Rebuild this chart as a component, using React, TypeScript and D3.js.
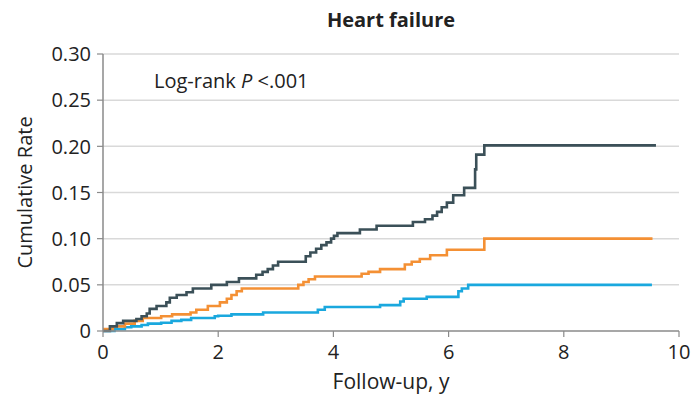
import React from "react";
import * as d3 from "d3";

// Cumulative rate step data: [follow-up years, cumulative rate]
const darkSeries: [number, number][] = [
  [0, 0], [0.12, 0.005], [0.24, 0.0085], [0.35, 0.011], [0.58, 0.013], [0.67, 0.016],
  [0.76, 0.019], [0.81, 0.024], [0.93, 0.027], [1.1, 0.031], [1.16, 0.036], [1.28, 0.039],
  [1.45, 0.042], [1.56, 0.046], [1.88, 0.05], [2.15, 0.053], [2.36, 0.057], [2.66, 0.061],
  [2.77, 0.064], [2.86, 0.067], [2.95, 0.071], [3.04, 0.075], [3.52, 0.081], [3.6, 0.085],
  [3.7, 0.089], [3.79, 0.093], [3.88, 0.096], [3.96, 0.1], [4.01, 0.103], [4.07, 0.106],
  [4.46, 0.11], [4.75, 0.114], [5.38, 0.118], [5.59, 0.121], [5.72, 0.125], [5.8, 0.129],
  [5.88, 0.134], [5.97, 0.139], [6.08, 0.147], [6.27, 0.155], [6.46, 0.175], [6.48, 0.191],
  [6.62, 0.201], [9.6, 0.201],
];

const orangeSeries: [number, number][] = [
  [0, 0.002], [0.17, 0.005], [0.38, 0.008], [0.55, 0.011], [0.69, 0.014], [1.01, 0.016],
  [1.2, 0.018], [1.52, 0.02], [1.62, 0.023], [1.82, 0.027], [2.03, 0.031], [2.15, 0.035],
  [2.23, 0.039], [2.32, 0.043], [2.41, 0.046], [3.39, 0.05], [3.48, 0.053], [3.57, 0.056],
  [3.68, 0.059], [4.49, 0.062], [4.61, 0.064], [4.81, 0.067], [5.24, 0.072], [5.36, 0.075],
  [5.5, 0.078], [5.68, 0.082], [5.97, 0.088], [6.62, 0.1], [9.54, 0.1],
];

const blueSeries: [number, number][] = [
  [0, 0], [0.2, 0.002], [0.38, 0.004], [0.49, 0.005], [0.67, 0.0065], [0.78, 0.008],
  [1.01, 0.009], [1.19, 0.011], [1.36, 0.012], [1.53, 0.014], [1.94, 0.016], [2.0, 0.0165],
  [2.23, 0.018], [2.78, 0.02], [3.73, 0.023], [3.85, 0.026], [4.81, 0.028], [5.16, 0.032],
  [5.22, 0.035], [5.62, 0.037], [6.17, 0.043], [6.23, 0.046], [6.34, 0.05], [9.53, 0.05],
];

const xTicks = [0, 2, 4, 6, 8, 10];
const yTicks = [0, 0.05, 0.1, 0.15, 0.2, 0.25, 0.3];
const yTickLabels = ["0", "0.05", "0.10", "0.15", "0.20", "0.25", "0.30"];

const series = [
  { name: "blue", data: blueSeries, color: "#1aa8de" },
  { name: "orange", data: orangeSeries, color: "#f49034" },
  { name: "dark", data: darkSeries, color: "#3b5058" },
];

const W = 694;
const H = 394;
const margin = { left: 103, right: 15, top: 54, bottom: 63 };
const FONT = "'Open Sans', sans-serif";

export default function App() {
  const x = d3.scaleLinear().domain([0, 10]).range([margin.left, W - margin.right]);
  const y = d3.scaleLinear().domain([0, 0.3]).range([H - margin.bottom, margin.top]);
  const line = d3
    .line<[number, number]>()
    .x((d) => x(d[0]))
    .y((d) => y(d[1]))
    .curve(d3.curveStepAfter);

  const x0 = x(0);
  const x1 = x(10);
  const yBase = y(0);
  const axisColor = "#8a8a8a";

  return (
    <svg
      width={W}
      height={H}
      style={{ position: "absolute", left: 0, top: 0, background: "#fff" }}
      fontFamily={FONT}
    >
      <text x={(x0 + x1) / 2} y={27} textAnchor="middle" fontSize={20} fontWeight={700} fill="#222">
        Heart failure
      </text>

      {yTicks.slice(1).map((t) => (
        <line key={"g" + t} x1={x0} x2={x1} y1={y(t)} y2={y(t)} stroke="#d9d9d9" strokeWidth={1.5} />
      ))}

      {series.map((s) => (
        <path key={s.name} d={line(s.data) || ""} fill="none" stroke={s.color} strokeWidth={2.6} />
      ))}

      <line x1={x0} x2={x0} y1={y(0.3)} y2={yBase} stroke={axisColor} strokeWidth={1.5} />
      <line x1={x0} x2={x1} y1={yBase} y2={yBase} stroke={axisColor} strokeWidth={1.5} />

      {yTicks.map((t, i) => (
        <g key={"y" + t}>
          <line x1={x0 - 6} x2={x0} y1={y(t)} y2={y(t)} stroke={axisColor} strokeWidth={1.2} />
          <text x={x0 - 12} y={y(t)} dy="0.36em" textAnchor="end" fontSize={20} fill="#222">
            {yTickLabels[i]}
          </text>
        </g>
      ))}

      {xTicks.map((t) => (
        <g key={"x" + t}>
          <line x1={x(t)} x2={x(t)} y1={yBase} y2={yBase + 6} stroke={axisColor} strokeWidth={1.2} />
          <text x={x(t)} y={yBase + 28} textAnchor="middle" fontSize={20} fill="#222">
            {t}
          </text>
        </g>
      ))}

      <text x={(x0 + x1) / 2} y={389} textAnchor="middle" fontSize={21} fill="#222">
        Follow-up, y
      </text>

      <text
        transform={`translate(32, ${(y(0.3) + yBase) / 2}) rotate(-90)`}
        textAnchor="middle"
        fontSize={20}
        fill="#222"
      >
        Cumulative Rate
      </text>

      <text x={154} y={88} fontSize={20} fill="#222">
        Log-rank <tspan fontStyle="italic">P</tspan> &lt;.001
      </text>
    </svg>
  );
}
